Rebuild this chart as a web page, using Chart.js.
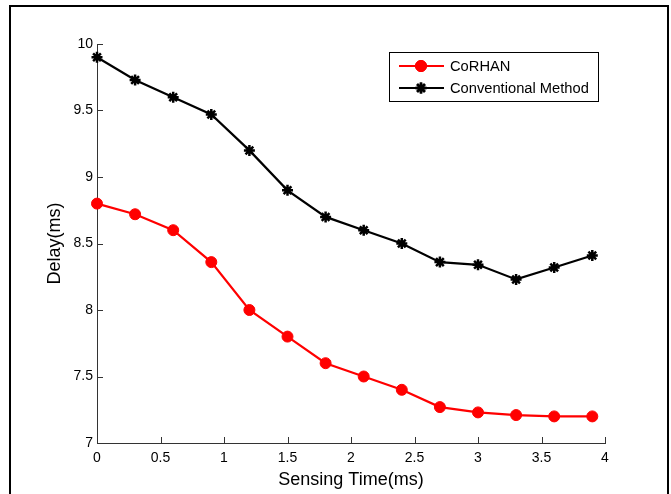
<!DOCTYPE html>
<html>
<head>
<meta charset="utf-8">
<script src="https://cdn.jsdelivr.net/npm/chart.js@4/dist/chart.umd.min.js"></script>
<style>
  body { margin: 0; background: #fff; }
  #wrap { position: relative; width: 671px; height: 494px; overflow: hidden; }
  #frame { position: absolute; left: 9px; top: 5px; width: 656px; height: 520px; border: 2px solid #000; }
  canvas { position: absolute; left: 0; top: 0; }
</style>
</head>
<body>
<div id="wrap">
  <div id="frame"></div>
  <canvas id="myChart" width="671" height="494"></canvas>
</div>
<script>
// sensing time (ms)
const sensingTime = [0, 0.3, 0.6, 0.9, 1.2, 1.5, 1.8, 2.1, 2.4, 2.7, 3.0, 3.3, 3.6, 3.9];
// delay (ms)
const corhanDelay = [8.8, 8.72, 8.6, 8.36, 8.0, 7.8, 7.6, 7.5, 7.4, 7.27, 7.23, 7.21, 7.2, 7.2];
const conventionalDelay = [9.9, 9.73, 9.6, 9.47, 9.2, 8.9, 8.7, 8.6, 8.5, 8.36, 8.34, 8.23, 8.32, 8.41];
const seriesNames = ['CoRHAN', 'Conventional Method'];

function toPoints(ys){
    return sensingTime.map((x, i) => ({x: x, y: ys[i]}));
}

// matlab style labels: 10, 9.5, 9 ...
function shortLabel(value){
    return String(Math.round(value * 10) / 10);
}

// ticks pointing into the plot
const innerTicks = {
    id: 'innerTicks',
    afterDraw(chart){
        const ctx = chart.ctx;
        const xs = chart.scales.x, ys = chart.scales.y;
        ctx.save();
        ctx.strokeStyle = '#333';
        ctx.lineWidth = 1;
        xs.ticks.forEach(t => {
            const px = Math.round(xs.getPixelForValue(t.value)) + 0.5;
            ctx.beginPath();
            ctx.moveTo(px, ys.bottom);
            ctx.lineTo(px, ys.bottom - 6);
            ctx.stroke();
        });
        ys.ticks.forEach(t => {
            const py = Math.round(ys.getPixelForValue(t.value)) + 0.5;
            ctx.beginPath();
            ctx.moveTo(xs.left, py);
            ctx.lineTo(xs.left + 6, py);
            ctx.stroke();
        });
        ctx.restore();
    }
};

// boxed legend at the top right
const boxLegend = {
    id: 'boxLegend',
    afterDraw(chart){
        const ctx = chart.ctx;
        const bx = 389, by = 52, bw = 209, bh = 49;
        ctx.save();
        ctx.fillStyle = '#fff';
        ctx.fillRect(bx, by, bw, bh);
        ctx.strokeStyle = '#000';
        ctx.lineWidth = 1;
        ctx.strokeRect(bx + 0.5, by + 0.5, bw, bh);
        ctx.font = '14.7px "Liberation Sans", Arial, sans-serif';
        ctx.textBaseline = 'middle';
        chart.data.datasets.forEach((ds, i) => {
            const y = by + 14 + i * 22;
            ctx.strokeStyle = ds.borderColor;
            ctx.lineWidth = 2;
            ctx.beginPath();
            ctx.moveTo(399, y);
            ctx.lineTo(444, y);
            ctx.stroke();
            ctx.fillStyle = ds.pointBackgroundColor;
            ctx.strokeStyle = ds.pointBorderColor;
            ctx.lineWidth = ds.pointBorderWidth;
            Chart.helpers.drawPoint(ctx, {
                pointStyle: ds.pointStyle,
                radius: ds.pointRadius,
                borderWidth: ds.pointBorderWidth
            }, 421, y);
            ctx.fill();
            ctx.stroke();
            ctx.fillStyle = '#000';
            ctx.fillText(ds.label, 450, y + 1);
        });
        ctx.restore();
    }
};

const data = {
    datasets: [{
        label: seriesNames[0],
        data: toPoints(corhanDelay),
        borderColor: '#ff0000',
        backgroundColor: '#ff0000',
        pointBackgroundColor: '#ff0000',
        pointBorderColor: '#ff0000',
        borderWidth: 2.2,
        pointStyle: 'circle',
        pointRadius: 5.5,
        pointBorderWidth: 1,
        clip: false
    }, {
        label: seriesNames[1],
        data: toPoints(conventionalDelay),
        borderColor: '#000000',
        backgroundColor: '#000000',
        pointBackgroundColor: '#000000',
        pointBorderColor: '#000000',
        borderWidth: 2.2,
        pointStyle: 'star',
        pointRadius: 5.5,
        pointBorderWidth: 2.5,
        clip: false
    }]
};

const tickFont = {family: '"Liberation Sans", Arial, sans-serif', size: 14};
const titleFont = {family: '"Liberation Sans", Arial, sans-serif', size: 18};

const config = {
    type: 'line',
    data,
    options: {
        responsive: false,
        animation: false,
        layout: {padding: {top: 44, right: 66, left: 0, bottom: 0}},
        plugins: {legend: {display: false}, tooltip: {enabled: false}},
        scales: {
            x: {
                type: 'linear',
                min: 0, max: 4,
                grid: {display: false, drawTicks: false},
                border: {display: true, color: '#333', width: 1},
                ticks: {stepSize: 0.5, color: '#000', font: tickFont, padding: 7, maxRotation: 0, callback: shortLabel},
                title: {display: true, text: 'Sensing Time(ms)', color: '#000', font: titleFont, padding: 3},
                afterFit(scale){ scale.height = 51; }
            },
            y: {
                min: 7, max: 10,
                grid: {display: false, drawTicks: false},
                border: {display: true, color: '#333', width: 1},
                ticks: {stepSize: 0.5, color: '#000', font: tickFont, padding: 4, callback: shortLabel},
                title: {display: true, text: 'Delay(ms)', color: '#000', font: titleFont, padding: 44},
                afterFit(scale){ scale.width = 97; }
            }
        }
    },
    plugins: [innerTicks, boxLegend]
};

var myChart = new Chart(document.getElementById('myChart').getContext('2d'), config);
</script>
</body>
</html>
